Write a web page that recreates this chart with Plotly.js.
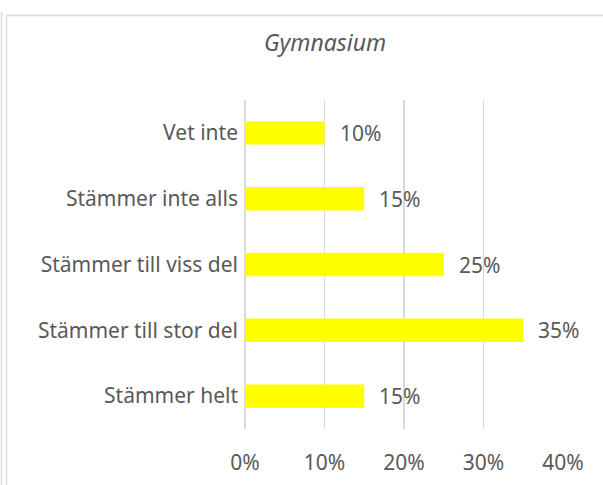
<!DOCTYPE html>
<html>
<head>
<meta charset="utf-8">
<script src="https://cdn.plot.ly/plotly-3.0.1.min.js"></script>
<style>html,body{margin:0;padding:0;background:#fff;}#chart{width:603px;height:485px;}</style>
</head>
<body>
<div id="chart"></div>
<script>
const categories = ["Stämmer helt", "Stämmer till stor del", "Stämmer till viss del", "Stämmer inte alls", "Vet inte"];
const values = [0.15, 0.35, 0.25, 0.15, 0.10];
const labels = ["15%", "35%", "25%", "15%", "10%"];
const xTickVals = [0, 0.1, 0.2, 0.3, 0.4];
const xTickText = ["0%", "10%", "20%", "30%", "40%"];
const chartTitle = "Gymnasium";

const W = 603, H = 485;
const M = {l: 245, r: 40, t: 100, b: 56};
const pw = W - M.l - M.r, ph = H - M.t - M.b;
const px = x => (x - M.l) / pw;
const py = y => 1 - (y - M.t) / ph;
const font = "'Noto Sans', 'Open Sans', sans-serif";
const txtColor = "#595959";
const fs = 21;

const trace = {
  type: "bar",
  orientation: "h",
  y: categories,
  x: values,
  marker: {color: "#ffff00"},
  hoverinfo: "none"
};

const annotations = categories.map((c, i) => ({
  x: values[i], y: c, xref: "x", yref: "y",
  text: labels[i], showarrow: false, xanchor: "left", xshift: 13,
  font: {family: font, size: fs, color: txtColor}
}));

const borderColor = "#d9d9d9";
const shapes = [
  {type: "line", xref: "paper", yref: "paper", x0: px(6.5), x1: px(6.5), y0: py(16), y1: py(490), line: {color: borderColor, width: 1.5}},
  {type: "line", xref: "paper", yref: "paper", x0: px(6.5), x1: px(610), y0: py(15.5), y1: py(15.5), line: {color: borderColor, width: 1.5}},
  {type: "line", xref: "paper", yref: "paper", x0: px(1.5), x1: px(1.5), y0: py(12), y1: py(490), line: {color: borderColor, width: 1.5}}
];

const layout = {
  width: W, height: H,
  margin: M,
  paper_bgcolor: "#fff", plot_bgcolor: "#fff",
  showlegend: false,
  bargap: 0.645,
  title: {
    text: chartTitle,
    font: {family: font, size: 23, color: txtColor, style: "italic"},
    x: px(325), xanchor: "center", xref: "paper",
    y: 1 - 43 / H, yanchor: "middle", yref: "container"
  },
  xaxis: {
    range: [0, 0.4],
    tickvals: xTickVals, ticktext: xTickText,
    showgrid: true, gridcolor: "#d9d9d9", gridwidth: 1.5,
    zeroline: true, zerolinecolor: "#d9d9d9", zerolinewidth: 1.5,
    showline: false, ticks: "",
    ticklabelstandoff: 19,
    tickfont: {family: font, size: fs, color: txtColor},
    fixedrange: true
  },
  yaxis: {
    type: "category",
    categoryorder: "array", categoryarray: categories,
    showgrid: false, zeroline: false, showline: false, ticks: "",
    ticklabelstandoff: 6,
    tickfont: {family: font, size: fs, color: txtColor},
    fixedrange: true
  },
  annotations: annotations,
  shapes: shapes
};

Plotly.newPlot("chart", [trace], layout, {displayModeBar: false, staticPlot: true});
</script>
</body>
</html>
